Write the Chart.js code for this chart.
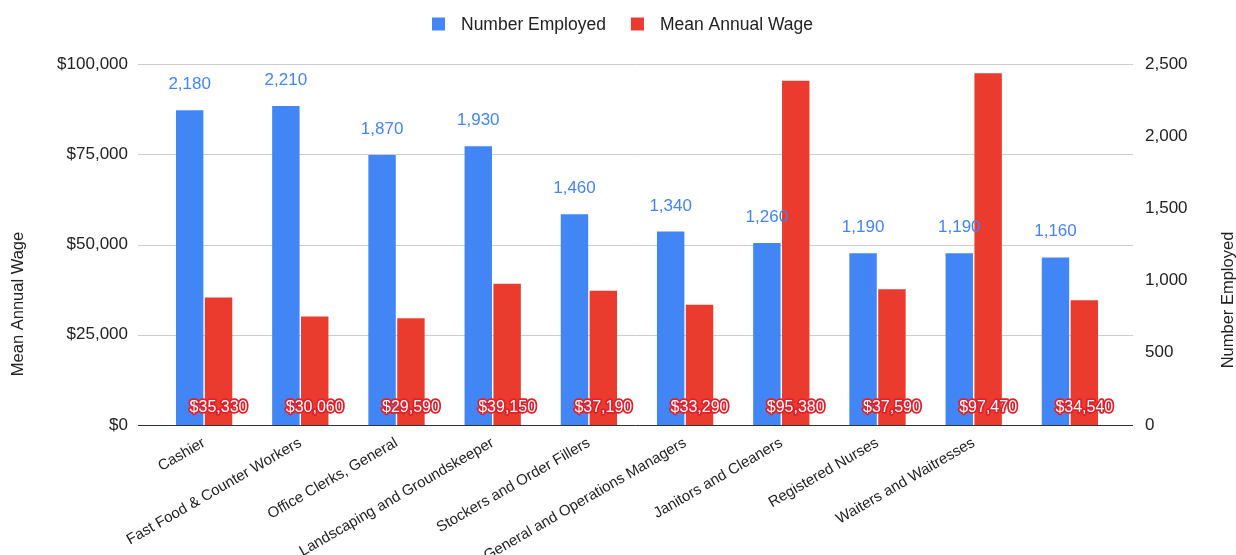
<!DOCTYPE html>
<html>
<head>
<meta charset="utf-8">
<script src="https://cdn.jsdelivr.net/npm/chart.js@4.4.1/dist/chart.umd.min.js"></script>
<style>
html,body{margin:0;padding:0;background:#fff;}
#wrap{width:1236px;height:555px;position:relative;}
</style>
</head>
<body>
<div id="wrap"><canvas id="c" width="1236" height="555"></canvas></div>
<script>
const categories = ["Cashier","Fast Food & Counter Workers","Office Clerks, General","Landscaping and Groundskeeper","Stockers and Order Fillers","General and Operations Managers","Janitors and Cleaners","Registered Nurses","Waiters and Waitresses",""];
const numberEmployed = [2180,2210,1870,1930,1460,1340,1260,1190,1190,1160];
const meanAnnualWage = [35330,30060,29590,39150,37190,33290,95380,37590,97470,34540];
const wageTicks = [0,25000,50000,75000,100000];
const employedTicks = [0,500,1000,1500,2000,2500];

const FONT = "'Liberation Sans', Arial, sans-serif";
const BLUE = '#4285F4';
const RED = '#EA3B2E';

const gridPlugin = {
  id:'grid',
  beforeDatasetsDraw(chart){
    const ctx = chart.ctx, y = chart.scales.y, a = chart.chartArea;
    ctx.save();
    y.ticks.forEach(t=>{
      const py = Math.round(y.getPixelForValue(t.value))+0.5;
      ctx.beginPath();
      ctx.strokeStyle = t.value===0 ? '#333333' : '#cccccc';
      ctx.lineWidth = 1;
      ctx.moveTo(a.left-18, py); ctx.lineTo(a.right+15, py);
      ctx.stroke();
    });
    ctx.restore();
  },
  afterDraw(chart){
    const ctx = chart.ctx;
    ctx.save();
    // legend
    ctx.font = "17.5px "+FONT;
    ctx.textBaseline='middle';
    ctx.textAlign='left';
    const ds = chart.data.datasets;
    const box = 13, gap = 16, itemGap = 25;
    const widths = ds.map(d=>ctx.measureText(d.label).width);
    const total = ds.reduce((s,d,i)=>s+box+gap+widths[i],0) + itemGap*(ds.length-1);
    let lx = Math.round(622 - total/2);
    const ly = 24;
    ds.forEach((d,i)=>{
      ctx.fillStyle = d.backgroundColor;
      ctx.fillRect(lx, ly-6.5, box, box);
      ctx.fillStyle = '#222222';
      ctx.fillText(d.label, lx+box+gap, ly+1);
      lx += box+gap+widths[i]+itemGap;
    });
    // bar labels
    const m0 = chart.getDatasetMeta(0), m1 = chart.getDatasetMeta(1);
    ctx.textAlign='center';
    ctx.font = "17px "+FONT;
    ctx.fillStyle = BLUE;
    ctx.textBaseline='alphabetic';
    m0.data.forEach((b,i)=>{
      ctx.fillText(numberEmployed[i].toLocaleString('en-US'), b.x, b.y-21);
    });
    ctx.font = "16px "+FONT;
    ctx.textBaseline='middle';
    ctx.lineJoin='round';
    m1.data.forEach((b,i)=>{
      const txt = '$'+meanAnnualWage[i].toLocaleString('en-US');
      const yy = chart.chartArea.bottom-17;
      ctx.strokeStyle = '#E0202A';
      ctx.lineWidth = 3.5;
      ctx.strokeText(txt, b.x, yy);
      ctx.fillStyle = '#ffffff';
      ctx.fillText(txt, b.x, yy);
    });
    // axis titles
    ctx.fillStyle='#222222';
    ctx.font = "16.5px "+FONT;
    ctx.textBaseline='middle';
    ctx.translate(18, 304); ctx.rotate(-Math.PI/2);
    ctx.fillText('Mean Annual Wage',0,0);
    ctx.setTransform(1,0,0,1,0,0);
    ctx.translate(1228, 300); ctx.rotate(-Math.PI/2);
    ctx.fillText('Number Employed',0,0);
    ctx.restore();
  }
};

new Chart(document.getElementById('c'), {
  type:'bar',
  data:{
    labels: categories,
    datasets:[
      {label:'Number Employed', data:numberEmployed, backgroundColor:BLUE, yAxisID:'y1', categoryPercentage:0.6, barPercentage:0.95},
      {label:'Mean Annual Wage', data:meanAnnualWage, backgroundColor:RED, yAxisID:'y', categoryPercentage:0.6, barPercentage:0.95}
    ]
  },
  options:{
    responsive:false,
    animation:false,
    layout:{padding:{top:64,left:0,right:0,bottom:0}},
    plugins:{
      legend:{display:false},
      tooltip:{enabled:false}
    },
    scales:{
      x:{
        grid:{display:false,drawTicks:false,tickLength:0},
        border:{display:false},
        ticks:{font:{family:FONT,size:15},color:'#222',minRotation:30,maxRotation:30,autoSkip:false,padding:9},
        afterFit(s){ s.height = 130; }
      },
      y:{
        position:'left',
        min:0,max:100000,
        afterBuildTicks(s){ s.ticks = wageTicks.map(v=>({value:v})); },
        grid:{display:false,drawTicks:false,tickLength:0},
        border:{display:false},
        ticks:{font:{family:FONT,size:17},color:'#222',padding:28,
          callback:v=>'$'+Number(v).toLocaleString('en-US')},
        afterFit(s){ s.width = 156; }
      },
      y1:{
        position:'right',
        min:0,max:2500,
        afterBuildTicks(s){ s.ticks = employedTicks.map(v=>({value:v})); },
        grid:{display:false,drawTicks:false,tickLength:0},
        border:{display:false},
        ticks:{font:{family:FONT,size:17},color:'#222',padding:27,
          callback:v=>Number(v).toLocaleString('en-US')},
        afterFit(s){ s.width = 118; }
      }
    }
  },
  plugins:[gridPlugin]
});
</script>
</body>
</html>
